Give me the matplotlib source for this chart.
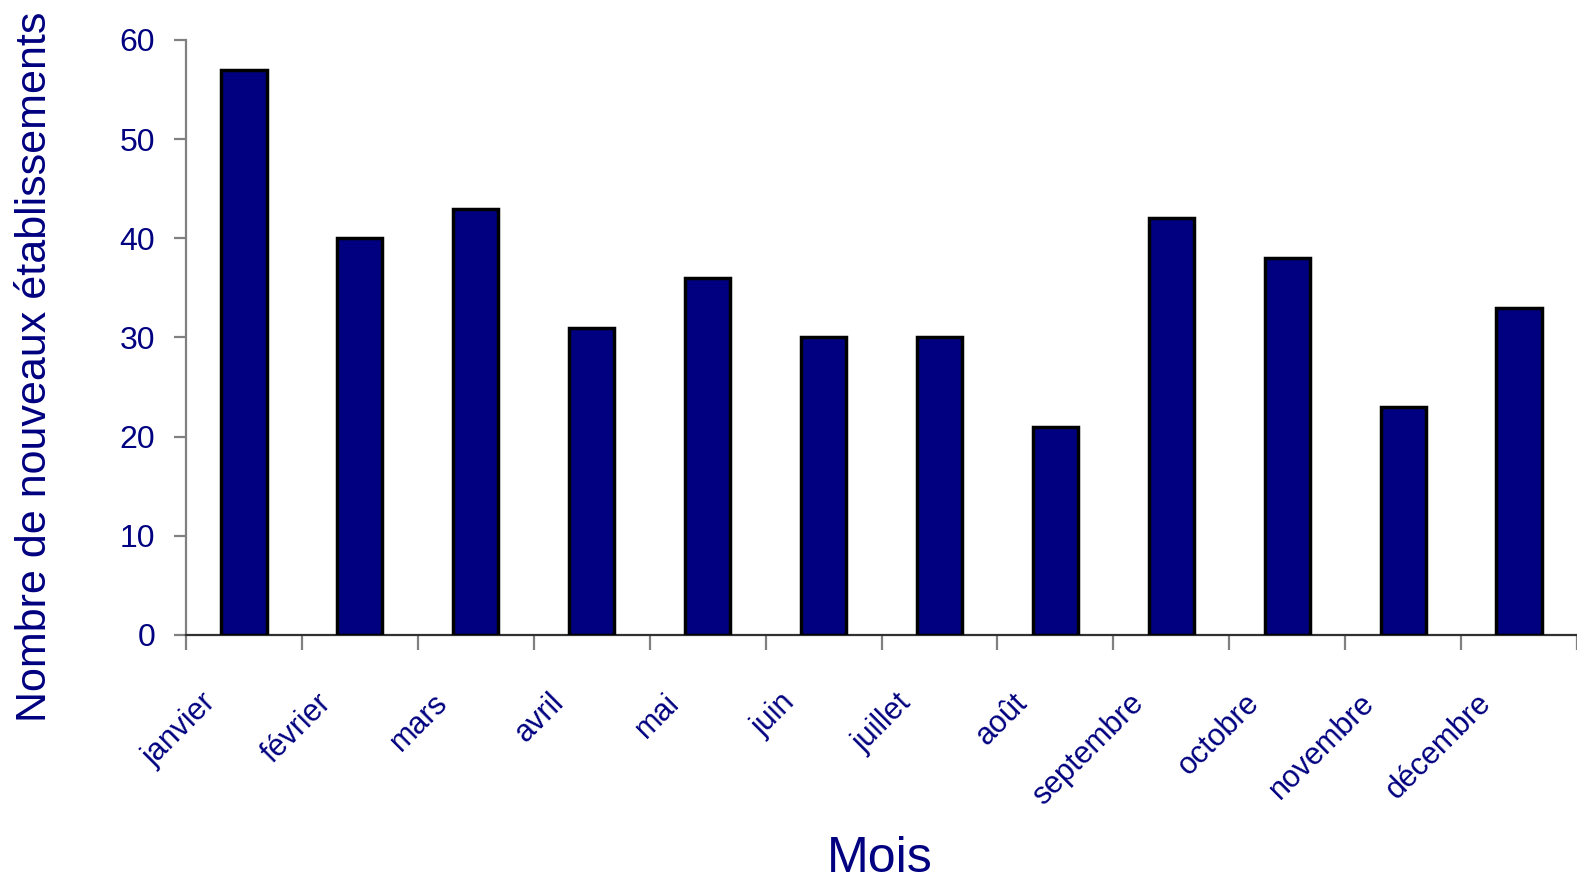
import matplotlib
matplotlib.use("Agg")
import matplotlib.pyplot as plt
import matplotlib.transforms as mtransforms
from matplotlib import font_manager
import numpy as np

mois = ["janvier", "février", "mars", "avril", "mai", "juin", "juillet",
        "août", "septembre", "octobre", "novembre", "décembre"]
nouveaux = [57, 40, 43, 31, 36, 30, 30, 21, 42, 38, 23, 33]
yticks = [0, 10, 20, 30, 40, 50, 60]

NAVY = "#000080"
available = {f.name for f in font_manager.fontManager.ttflist}
base_font = "Liberation Sans" if "Liberation Sans" in available else "DejaVu Sans"
plt.rcParams["font.family"] = [base_font, "DejaVu Sans"]

W, H = 1577, 882
fig = plt.figure(figsize=(W / 100, H / 100), dpi=100)
ax = fig.add_axes([186 / W, (H - 635) / H, (W - 186) / W, (635 - 40) / H])

x = np.arange(len(mois))
ax.bar(x, nouveaux, width=0.39, color=NAVY, edgecolor="black", linewidth=2.5,
       zorder=3)

ax.set_xlim(-0.5, len(mois) - 0.5)
ax.set_ylim(0, 60)
ax.set_yticks(yticks)
ax.set_yticklabels([str(v) for v in yticks])

for side in ("top", "right"):
    ax.spines[side].set_visible(False)
ax.spines["left"].set_color("#808080")
ax.spines["left"].set_linewidth(1.6)
ax.spines["bottom"].set_color("#303030")
ax.spines["bottom"].set_linewidth(1.6)

ax.tick_params(axis="y", direction="out", length=8.6, width=1.6,
               color="#808080", labelsize=23, labelcolor=NAVY, pad=13.5)

# category boundaries carry the tick marks, centres carry the labels
ax.set_xticks(np.arange(-0.5, len(mois), 1.0), minor=True)
ax.set_xticks(x)
ax.set_xticklabels(mois, rotation=45, ha="right", va="top")
ax.tick_params(axis="x", which="minor", direction="out", length=10.8,
               width=1.6, color="#808080")
ax.tick_params(axis="x", which="major", length=0, labelsize=22,
               labelcolor=NAVY, pad=38)
shift = mtransforms.ScaledTranslation(-0.22, 0, fig.dpi_scale_trans)
for lab in ax.get_xticklabels():
    lab.set_transform(lab.get_transform() + shift)

fig.text(880 / W, 10 / H, "Mois", ha="center", va="baseline",
         fontsize=36, color=NAVY)
fig.text(35 / W, (H - 367) / H, "Nombre de nouveaux établissements",
         rotation=90, ha="center", va="center", fontsize=31, color=NAVY)

fig.savefig("out.png", dpi=100, facecolor="white")
